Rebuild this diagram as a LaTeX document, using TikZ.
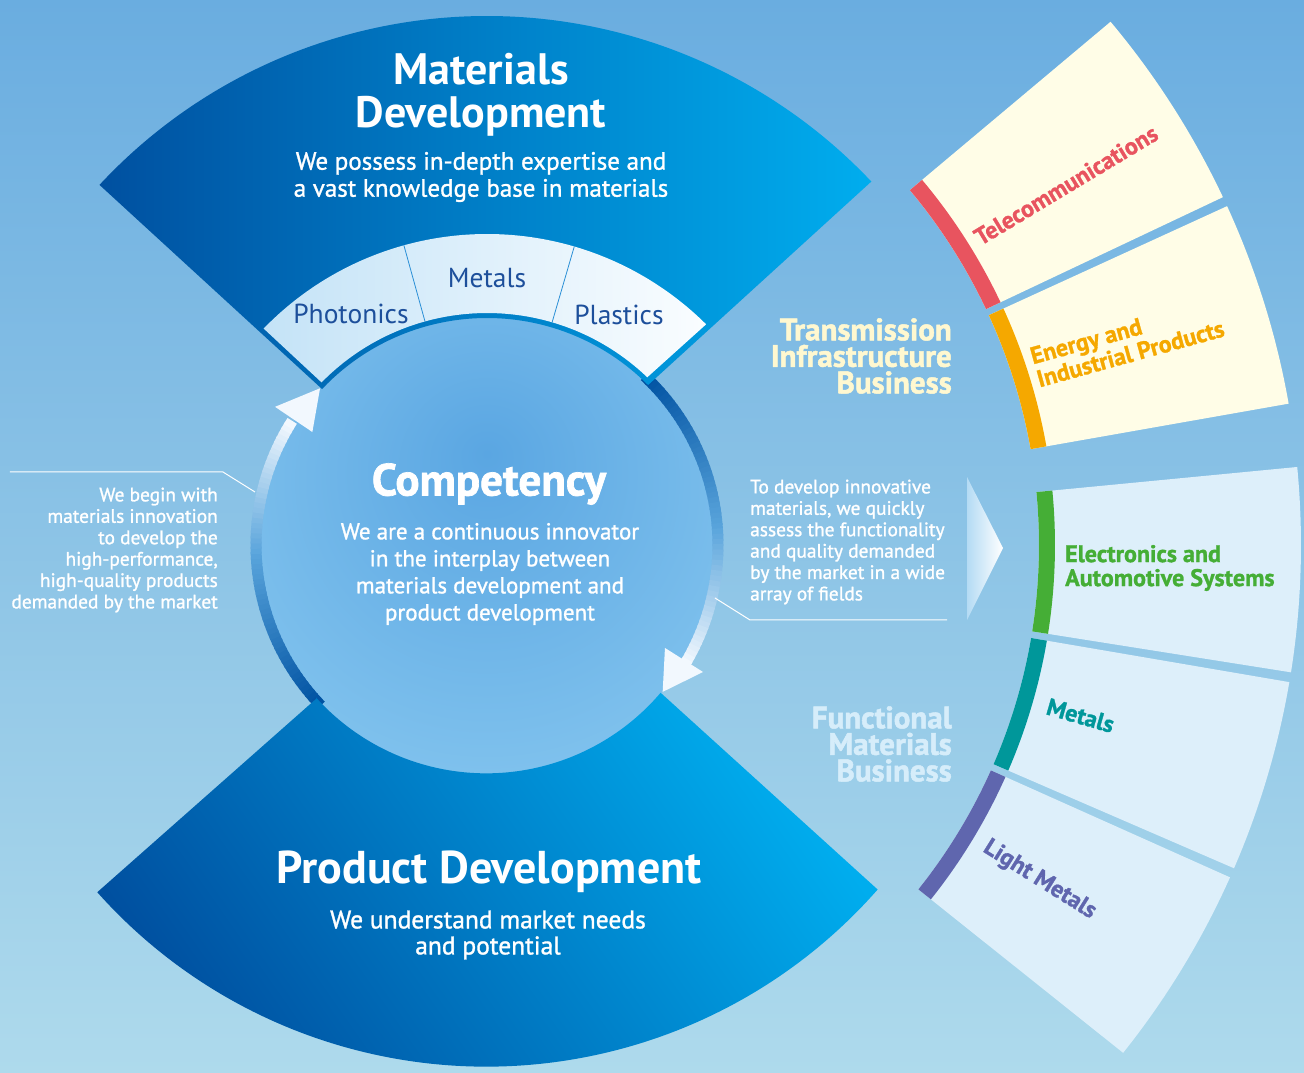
\documentclass[tikz,border=0pt]{standalone}
\usepackage{fontspec}
\setmainfont{PT Sans}
\newfontfamily\semifont{PT Sans}[FakeBold=1.2]
\newfontfamily\heavyfont{PT Sans}[FakeBold=1.6]
\usetikzlibrary{calc}

\definecolor{bgtop}{HTML}{6AADE0}
\definecolor{bgmid}{HTML}{8CC9EF}
\definecolor{bgbot}{HTML}{AEDAEC}
\definecolor{fandark}{HTML}{0050A0}
\definecolor{fancyan}{HTML}{00ADEE}
\definecolor{bandleft}{HTML}{C4E3F7}
\definecolor{bandright}{HTML}{FAFDFF}
\definecolor{bandtext}{HTML}{1D4F9B}
\definecolor{sepline}{HTML}{2A8FD6}
\definecolor{ringdark}{HTML}{0052A2}
\definecolor{ringmid}{HTML}{5AA5DC}
\definecolor{ringlight}{HTML}{F2F8FE}
\definecolor{glowin}{HTML}{5AA6E2}
\definecolor{glowout}{HTML}{8CCBF1}
\definecolor{cream}{HTML}{FFFDE7}
\definecolor{paleblue}{HTML}{DDEFFA}
\definecolor{telered}{HTML}{E8545F}
\definecolor{energyorange}{HTML}{F5A800}
\definecolor{elecgreen}{HTML}{45AE36}
\definecolor{metalteal}{HTML}{00979A}
\definecolor{lightpurple}{HTML}{5F66AE}
\definecolor{transcream}{HTML}{FFF8D0}
\definecolor{funcblue}{HTML}{D6EDFA}
\definecolor{arrowleft}{HTML}{B4DBF4}

\pgfdeclareradialshading{coreglow}{\pgfpoint{0bp}{10bp}}{%
  color(0bp)=(glowin); color(42bp)=(glowout); color(70bp)=(glowout)}

% one business segment: start angle, end angle, fill colour, edge colour
\newcommand\bizsegment[4]{%
  \fill[#3] (#1:552) arc[start angle=#1, end angle=#2, radius=552]
    -- (#2:814) arc[start angle=#2, end angle=#1, radius=814] -- cycle;
  \fill[#4] (#1:552) arc[start angle=#1, end angle=#2, radius=552]
    -- (#2:568) arc[start angle=#2, end angle=#1, radius=568] -- cycle;
}

\tikzset{
  whitetext/.style={text=white, align=center, inner sep=0pt},
  bandlabel/.style={text=bandtext, inner sep=0pt, font=\fontsize{27.5}{30}\selectfont},
  sidetext/.style={text=white, inner sep=0pt, font=\semifont\fontsize{19.4}{21.4}\selectfont},
  bizlabel/.style={inner sep=0pt, align=right, font=\heavyfont\bfseries\fontsize{31}{26.5}\selectfont},
  seglabel/.style={inner sep=0pt, font=\semifont\bfseries\fontsize{24}{24}\selectfont},
  leader/.style={draw=white, line width=1pt},
}

\begin{document}
\begin{tikzpicture}[x=1pt,y=1pt]
\useasboundingbox (-487,-528) rectangle (817,545);
\shade[top color=bgtop, middle color=bgmid, bottom color=bgbot] (-487,-528) rectangle (817,545);

% core circle with soft glow
\shade[shading=coreglow] (0,0) circle[radius=229];

% circulating ring arrows (colour graded along the arc)
\foreach \i in {0,...,59}{
  \pgfmathsetmacro\aa{224 - \i*76/60}
  \pgfmathsetmacro\ab{\aa - 76/60 - 0.5}
  \pgfmathtruncatemacro\pa{min(100, \i/59/0.55*100)}
  \pgfmathtruncatemacro\pb{max(0, (\i/59-0.55)/0.45*100)}
  \colorlet{ringtmp}{ringmid!\pa!ringdark}
  \colorlet{ringcur}{ringlight!\pb!ringtmp}
  \draw[ringcur, line width=11pt] (\aa:231) arc[start angle=\aa, end angle=\ab, radius=231];
}
\foreach \i in {0,...,59}{
  \pgfmathsetmacro\aa{47 - \i*78/60}
  \pgfmathsetmacro\ab{\aa - 78/60 - 0.5}
  \pgfmathtruncatemacro\pa{min(100, \i/59/0.55*100)}
  \pgfmathtruncatemacro\pb{max(0, (\i/59-0.55)/0.45*100)}
  \colorlet{ringtmp}{ringmid!\pa!ringdark}
  \colorlet{ringcur}{ringlight!\pb!ringtmp}
  \draw[ringcur, line width=11pt] (\aa:231) arc[start angle=\aa, end angle=\ab, radius=231];
}
\fill[ringlight] (136.8:229) -- (146.9:253) -- (147.1:208) -- cycle;
\fill[ringlight] (-39.9:229) -- (-30.05:205.6) -- (-30.45:250.6) -- cycle;

% materials development fan
\shade[left color=fandark, right color=fancyan]
  (136.6:227) -- (137.1:529) arc[start angle=137.1, end angle=43.4, radius=529]
  -- (44.8:227) arc[start angle=44.8, end angle=136.6, radius=227] -- cycle;
\shade[left color=bandleft, right color=bandright]
  (135.5:232) -- (135.9:311) arc[start angle=135.9, end angle=45.2, radius=311]
  -- (46.3:232) arc[start angle=46.3, end angle=135.5, radius=232] -- cycle;
\draw[sepline, line width=0.8pt] (105.5:232) -- (105.5:311);
\draw[sepline, line width=0.8pt] (73.7:232) -- (73.7:311);

% product development fan
\shade[left color=fandark, right color=fancyan, shading angle=125]
  (-138:229) -- (-138.3:522) arc[start angle=-138.3, end angle=-41.3, radius=521]
  -- (-40.4:228) arc[start angle=-40.4, end angle=-138, radius=229] -- cycle;

% business segments
\bizsegment{25.3}{40}{cream}{telered}
\bizsegment{10}{24.6}{cream}{energyorange}
\bizsegment{-9}{5.5}{paleblue}{elecgreen}
\bizsegment{-23.4}{-9.7}{paleblue}{metalteal}
\bizsegment{-38.6}{-24.1}{paleblue}{lightpurple}

% pointer towards the businesses
\shade[left color=arrowleft, right color=white] (480,68) -- (516,-3) -- (480,-75) -- cycle;

% texts
\node[whitetext, font=\bfseries\fontsize{44}{43}\selectfont] (mattitle) at (-6,450) {Materials\\Development};
\node[whitetext, font=\semifont\fontsize{25}{27}\selectfont] (matsub) at (-6,368) {We possess in-depth expertise and\\a vast knowledge base in materials};
\node[bandlabel] (photonics) at (-136,231) {Photonics};
\node[bandlabel] (metals) at (0,267) {Metals};
\node[bandlabel] (plastics) at (132,230) {Plastics};

\node[whitetext, font=\heavyfont\bfseries\fontsize{45}{40}\selectfont] (competency) at (2,61) {Competency};
\node[whitetext, font=\semifont\fontsize{23}{27}\selectfont] (compsub) at (3,-29) {We are a continuous innovator\\in the interplay between\\materials development and\\product development};

\node[whitetext, font=\bfseries\fontsize{46}{43}\selectfont] (prodtitle) at (2,-327) {Product Development};
\node[whitetext, font=\semifont\fontsize{25.5}{26}\selectfont] (prodsub) at (1,-390) {We understand market needs\\and potential};

\node[sidetext, align=right, anchor=east] (lefttext) at (-269,-5) {We begin with\\materials innovation\\to develop the\\high-performance,\\high-quality products\\demanded by the market};
\node[sidetext, align=left, anchor=west] (righttext) at (263,3) {To develop innovative\\materials, we quickly\\assess the functionality\\and quality demanded\\by the market in a wide\\array of fields};

\node[bizlabel, text=transcream, anchor=east] (transbiz) at (465,189) {Transmission\\Infrastructure\\Business};
\node[bizlabel, text=funcblue, anchor=east] (funcbiz) at (465,-199) {Functional\\Materials\\Business};

\node[seglabel, text=telered, rotate=31] (telecom) at (579,360) {Telecommunications};
\node[seglabel, text=energyorange, rotate=15.5, align=left, anchor=west] (energy) at (547,177) {Energy and\\Industrial Products};
\node[seglabel, text=elecgreen, align=left, anchor=west] (electronics) at (578,-23) {Electronics and\\Automotive Systems};
\node[seglabel, text=metalteal, rotate=-16, anchor=base west] (metalseg) at (558,-169) {Metals};
\node[seglabel, text=lightpurple, rotate=-32, anchor=base west] (lightmetals) at (495,-306) {Light Metals};

% leader lines from the texts to the ring
\coordinate (leftend) at (-477,73);
\coordinate (leftbend) at (-264,73);
\coordinate (leftring) at (-232,53);
\coordinate (rightring) at (228,-53);
\coordinate (rightbend) at (263,-75);
\coordinate (rightend) at (460,-75);
\draw[leader] (leftend) -- (leftbend) -- (leftring);
\draw[leader] (rightring) -- (rightbend) -- (rightend);
\end{tikzpicture}
\end{document}
